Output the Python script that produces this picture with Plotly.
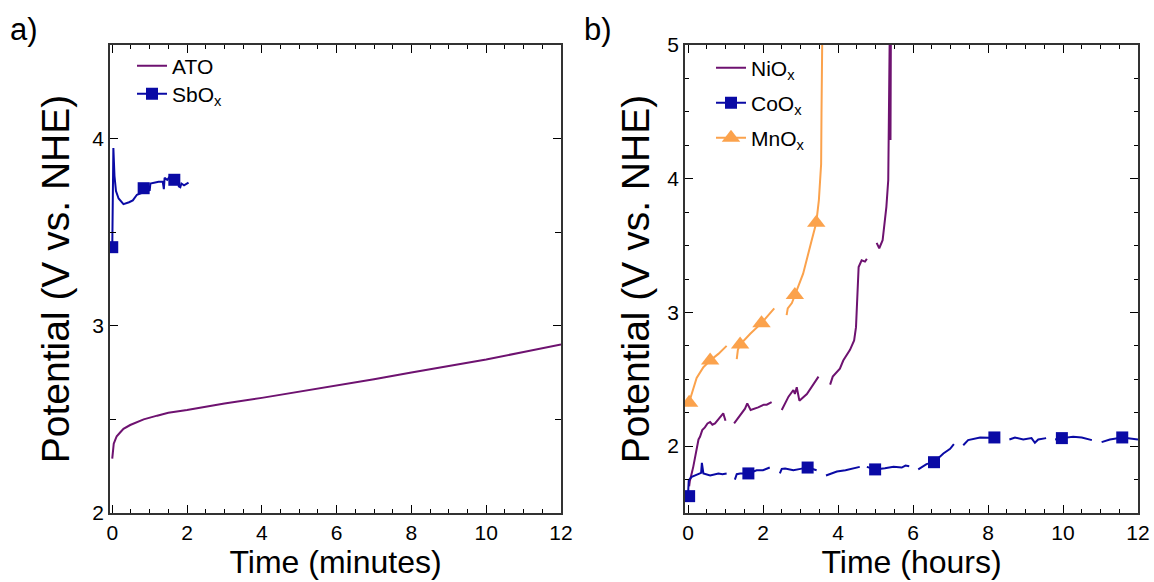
import plotly.graph_objects as go

# ---------------- data ----------------
# panel a) time in minutes
ato_t = [0.0, 0.02, 0.04, 0.08, 0.12, 0.21, 0.30, 0.48, 0.84, 1.2, 1.5, 2.0, 3.0, 4.0, 5.0, 6.0, 7.0, 8.0, 9.0, 10.0, 11.0, 12.0]
ato_v = [2.29, 2.34, 2.37, 2.39, 2.41, 2.43, 2.45, 2.47, 2.50, 2.52, 2.535, 2.55, 2.585, 2.615, 2.647, 2.68, 2.714, 2.75, 2.784, 2.82, 2.86, 2.90]

sbox_t = [0.00, 0.03, 0.06, 0.10, 0.17, 0.30, 0.45, 0.55, 0.66, 0.80, 0.82, 0.88, 0.94, 1.00, 1.02, 1.24, 1.35, 1.38, 1.40, 1.47, 1.55, 1.62, 1.66, 1.72, 1.76, 1.78, 1.82, 1.85, 1.92, 2.04]
sbox_v = [3.40, 3.95, 3.80, 3.72, 3.68, 3.65, 3.66, 3.67, 3.70, 3.71, 3.76, 3.72, 3.76, 3.72, 3.76, 3.77, 3.77, 3.73, 3.79, 3.78, 3.80, 3.80, 3.76, 3.80, 3.80, 3.745, 3.74, 3.76, 3.75, 3.765]
sbox_mt = [0.0, 0.84, 1.66]
sbox_mv = [3.42, 3.735, 3.78]

# panel b) time in hours (None = gap in the record)
nio_t = [0.03, 0.05, 0.14, 0.23, 0.28, 0.32, 0.38, 0.45, 0.52, 0.59, 0.65, 0.72, 0.85, 0.94, 1.00, None,
         1.23, 1.39, 1.52, 1.58, 1.67, 1.87, 2.02, 2.10, 2.23, None,
         2.50, 2.68, 2.81, 2.85, 2.90, 2.97, 3.17, 3.48, None,
         3.79, 3.86, 4.05, 4.10, 4.14, 4.32, 4.43, 4.48, 4.52, 4.55, 4.63, 4.72, 4.77, None,
         5.03, 5.10, 5.19, 5.25, 5.29, 5.34, 5.36, 5.38, 5.40, 5.41]
nio_v = [1.70, 1.74, 1.845, 1.995, 2.05, 2.07, 2.12, 2.14, 2.17, 2.18, 2.16, 2.17, 2.22, 2.245, 2.19, None,
         2.17, 2.23, 2.28, 2.32, 2.27, 2.29, 2.31, 2.31, 2.33, None,
         2.27, 2.37, 2.42, 2.39, 2.44, 2.34, 2.39, 2.52, None,
         2.46, 2.52, 2.58, 2.62, 2.64, 2.72, 2.79, 2.89, 3.12, 3.34, 3.39, 3.38, 3.40, None,
         3.52, 3.48, 3.54, 3.67, 3.79, 3.99, 4.36, 5.10, 4.29, 5.10]

coo_t = [0.00, 0.02, 0.10, 0.28, 0.35, 0.37, 0.41, 0.59, 0.70, 0.81, 0.92, 1.03, None,
         1.25, 1.30, 1.39, 1.61, 1.83, 2.00, 2.18, None,
         2.45, 2.50, 2.59, 2.81, 3.00, 3.19, 3.43, None,
         3.68, 3.97, 4.20, 4.37, 4.58, None,
         4.77, 4.99, 5.25, 5.48, 5.70, 5.80, 5.90, None,
         6.14, 6.36, 6.56, 6.81, 6.99, 7.09, None,
         7.34, 7.47, 7.79, 8.17, 8.28, None,
         8.57, 8.72, 8.94, 9.16, 9.25, 9.34, 9.55, None,
         9.79, 9.97, 10.27, 10.50, 10.77, None,
         11.03, 11.25, 11.58, 11.97, 12.0]
coo_v = [1.63, 1.745, 1.77, 1.79, 1.80, 1.875, 1.796, 1.78, 1.79, 1.796, 1.79, 1.796, None,
         1.75, 1.79, 1.796, 1.796, 1.82, 1.82, 1.84, None,
         1.796, 1.83, 1.833, 1.82, 1.83, 1.84, 1.82, None,
         1.78, 1.81, 1.82, 1.833, 1.845, None,
         1.845, 1.826, 1.835, 1.845, 1.84, 1.855, 1.85, None,
         1.826, 1.866, 1.88, 1.945, 1.98, 2.015, None,
         2.007, 2.045, 2.065, 2.065, 2.06, None,
         2.05, 2.065, 2.05, 2.06, 2.025, 2.05, 2.06, None,
         2.05, 2.06, 2.07, 2.065, 2.045, None,
         2.03, 2.05, 2.065, 2.05, 2.05]
coo_mt = [0.03, 1.61, 3.19, 4.99, 6.56, 8.17, 9.97, 11.58]
coo_mv = [1.626, 1.796, 1.84, 1.826, 1.88, 2.065, 2.06, 2.065]

mno_t = [0.00, 0.03, 0.10, 0.23, 0.41, 0.59, 0.81, 1.03, None,
         1.30, 1.33, 1.39, 1.66, 1.96, 2.30, None,
         2.63, 2.66, 2.77, 2.85, 3.07, 3.29, 3.42, 3.49, 3.55, 3.56, 3.58]
mno_v = [2.30, 2.33, 2.39, 2.51, 2.59, 2.64, 2.69, 2.75, None,
         2.65, 2.72, 2.76, 2.84, 2.92, 3.03, None,
         2.98, 3.03, 3.07, 3.13, 3.29, 3.53, 3.67, 3.84, 4.11, 4.49, 5.05]
mno_mt = [0.03, 0.59, 1.39, 1.96, 2.85, 3.42]
mno_mv = [2.324, 2.64, 2.76, 2.92, 3.13, 3.67]

# ---------------- styles ----------------
PURPLE = "#6E1270"
BLUE = "#0A0AA5"
ORANGE = "#FBA24C"
FONT = "Liberation Sans, Arial, sans-serif"
LW = 2
W, H = 1154, 582

fig = go.Figure()

# panel a
fig.add_trace(go.Scatter(x=ato_t, y=ato_v, mode="lines", line=dict(color=PURPLE, width=LW),
                         name="ATO", legend="legend", xaxis="x", yaxis="y"))
fig.add_trace(go.Scatter(x=sbox_t, y=sbox_v, mode="lines", line=dict(color=BLUE, width=LW),
                         showlegend=False, xaxis="x", yaxis="y"))
fig.add_trace(go.Scatter(x=sbox_mt, y=sbox_mv, mode="markers",
                         marker=dict(symbol="square", size=12, color=BLUE),
                         showlegend=False, xaxis="x", yaxis="y"))
fig.add_trace(go.Scatter(x=[None], y=[None], mode="lines+markers", name="SbO<sub>x</sub>",
                         line=dict(color=BLUE, width=LW), marker=dict(symbol="square", size=12, color=BLUE),
                         legend="legend2", xaxis="x", yaxis="y"))

# panel b
fig.add_trace(go.Scatter(x=nio_t, y=nio_v, mode="lines", line=dict(color=PURPLE, width=LW),
                         name="NiO<sub>x</sub>", legend="legend3", xaxis="x2", yaxis="y2"))
fig.add_trace(go.Scatter(x=coo_t, y=coo_v, mode="lines", line=dict(color=BLUE, width=LW),
                         showlegend=False, xaxis="x2", yaxis="y2"))
fig.add_trace(go.Scatter(x=coo_mt, y=coo_mv, mode="markers",
                         marker=dict(symbol="square", size=12, color=BLUE),
                         showlegend=False, xaxis="x2", yaxis="y2"))
fig.add_trace(go.Scatter(x=mno_t, y=mno_v, mode="lines", line=dict(color=ORANGE, width=LW),
                         showlegend=False, xaxis="x2", yaxis="y2"))
fig.add_trace(go.Scatter(x=mno_mt, y=mno_mv, mode="markers",
                         marker=dict(symbol="triangle-up", size=16, color=ORANGE),
                         showlegend=False, xaxis="x2", yaxis="y2"))
fig.add_trace(go.Scatter(x=[None], y=[None], mode="lines+markers", name="CoO<sub>x</sub>",
                         line=dict(color=BLUE, width=LW), marker=dict(symbol="square", size=12, color=BLUE),
                         legend="legend4", xaxis="x2", yaxis="y2"))
fig.add_trace(go.Scatter(x=[None], y=[None], mode="lines+markers", name="MnO<sub>x</sub>",
                         line=dict(color=ORANGE, width=LW), marker=dict(symbol="triangle-up", size=16, color=ORANGE),
                         legend="legend5", xaxis="x2", yaxis="y2"))

ytop = 1 - 45 / H
ybot = 1 - 513 / H


def xax(dom, title, rng, anchor):
    return dict(domain=dom, range=rng, anchor=anchor, automargin=False,
                tickmode="array", tickvals=[0, 2, 4, 6, 8, 10, 12],
                ticks="inside", ticklen=8, tickwidth=1.3, tickcolor="black",
                minor=dict(dtick=0.5, tick0=0, ticks="inside", ticklen=4, tickwidth=1.2, tickcolor="black"),
                showline=True, linecolor="#333333", linewidth=1.6, mirror="ticks",
                showgrid=False, zeroline=False, tickfont=dict(size=21, color="black", family=FONT),
                title=dict(text=title, font=dict(size=32, color="black", family=FONT), standoff=6))


def yax(anchor, rng, minor_dt, minor_len, title_standoff):
    return dict(domain=[ybot, ytop], range=rng, dtick=1, tick0=0, anchor=anchor, automargin=False,
                ticks="inside", ticklen=8, tickwidth=1.3, tickcolor="black",
                minor=dict(dtick=minor_dt, tick0=0, ticks="inside", ticklen=minor_len, tickwidth=1.2, tickcolor="black"),
                showline=True, linecolor="#333333", linewidth=1.6, mirror="ticks",
                showgrid=False, zeroline=False, tickfont=dict(size=21, color="black", family=FONT),
                title=dict(text="Potential (V vs. NHE)", font=dict(size=39, color="black", family=FONT),
                           standoff=title_standoff))


def leg(x_px, y_px):
    return dict(x=x_px / W, y=1 - y_px / H, xanchor="left", yanchor="middle", bgcolor="rgba(0,0,0,0)",
                font=dict(size=21, family=FONT, color="black"), itemwidth=30)


fig.update_layout(
    width=W, height=H, margin=dict(l=0, r=0, t=0, b=0, autoexpand=False),
    paper_bgcolor="white", plot_bgcolor="white",
    font=dict(family=FONT, color="black"),
    xaxis=xax([110 / W, 561 / W], "Time (minutes)", [-0.06, 12], "y"),
    yaxis=yax("x", [2, 4.5], 0.5, 6, 11),
    xaxis2=xax([685 / W, 1138 / W], "Time (hours)", [-0.08, 12], "y2"),
    yaxis2=yax("x2", [1.5, 5], 0.25, 4, 6),
    legend=leg(132, 66),
    legend2=leg(132, 94),
    legend3=leg(711, 68),
    legend4=leg(711, 103),
    legend5=leg(711, 138),
    annotations=[
        dict(text="a)", x=8 / W, y=1 - 29 / H, xref="paper", yref="paper", xanchor="left", yanchor="middle",
             showarrow=False, font=dict(size=31, family=FONT, color="black")),
        dict(text="b)", x=582 / W, y=1 - 29 / H, xref="paper", yref="paper", xanchor="left", yanchor="middle",
             showarrow=False, font=dict(size=31, family=FONT, color="black")),
    ],
)

fig.write_html("out.html")
